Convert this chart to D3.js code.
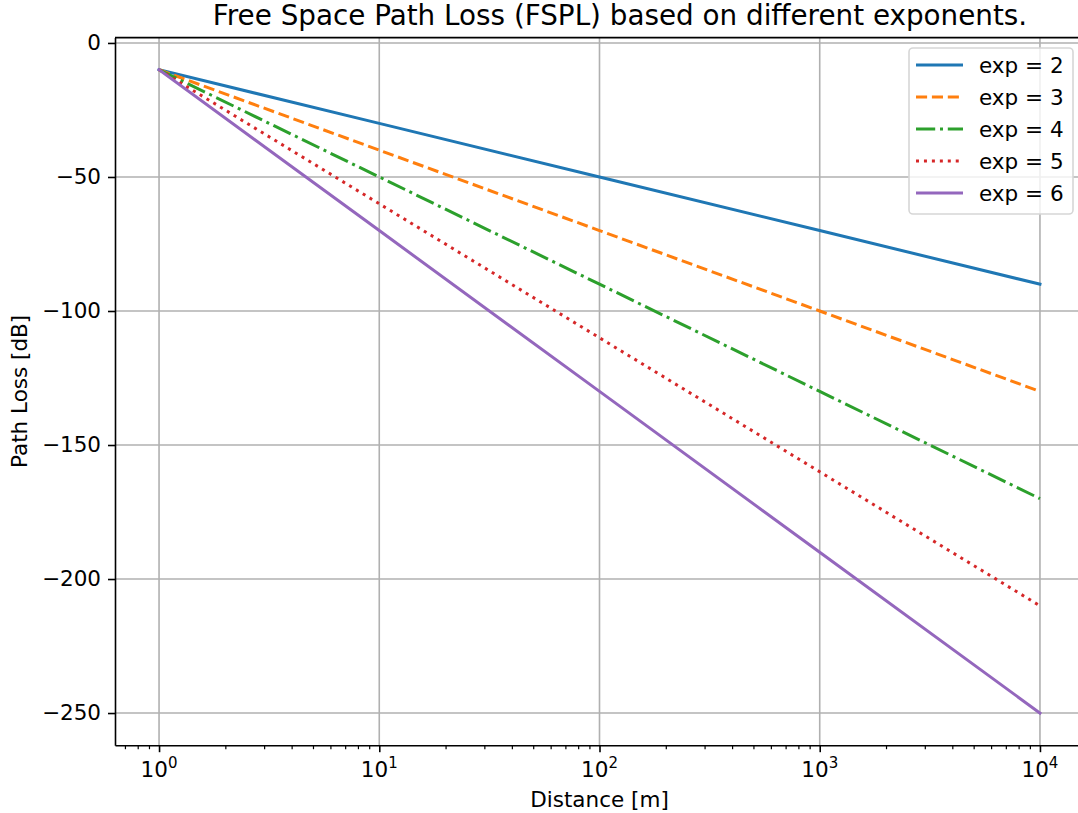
<!DOCTYPE html>
<html>
<head>
<meta charset="utf-8">
<script src="https://cdn.jsdelivr.net/npm/d3@7"></script>
<style>
  body { margin: 0; background: #fff; }
  svg text { font-family: "DejaVu Sans", sans-serif; fill: #000; }
</style>
</head>
<body>
<svg id="chart" width="1078" height="813"></svg>
<script>
// path loss, one array per exponent
var distances = [1, 10, 100, 1000, 10000];
var exponents = [2, 3, 4, 5, 6];
var lossExp2 = [-10, -30, -50, -70, -90];
var lossExp3 = [-10, -40, -70, -100, -130];
var lossExp4 = [-10, -50, -90, -130, -170];
var lossExp5 = [-10, -60, -110, -160, -210];
var lossExp6 = [-10, -70, -130, -190, -250];
var xMajorTicks = [1, 10, 100, 1000, 10000];
var xTickExps = ["0", "1", "2", "3", "4"];
var yTicks = [0, -50, -100, -150, -200, -250];

var seriesLoss = [lossExp2, lossExp3, lossExp4, lossExp5, lossExp6];
var colors = ["#1f77b4", "#ff7f0e", "#2ca02c", "#d62728", "#9467bd"];
var dashes = [null, "11.1,4.8", "19.2,4.8,3,4.8", "3,4.95", null];

var svg = d3.select("#chart");
// plot box (right edge lies past the picture, as in the original crop)
var plotL = 115, plotT = 37.6, plotB = 745.2, plotR = 1084;
var labelSize = "21.5px";

var x = d3.scaleLog().domain([Math.pow(10, -0.2), Math.pow(10, 4.2)]).range([plotL, plotR]);
var y = d3.scaleLinear().domain([-262, 2]).range([plotB, plotT]);

// grid
var grid = svg.append("g");
grid.selectAll(".gx").data(xMajorTicks).enter().append("line")
  .attr("x1", function(d) { return x(d); }).attr("x2", function(d) { return x(d); })
  .attr("y1", plotT).attr("y2", plotB)
  .attr("stroke", "#b0b0b0").attr("stroke-width", 1.6);
grid.selectAll(".gy").data(yTicks).enter().append("line")
  .attr("x1", plotL).attr("x2", plotR)
  .attr("y1", function(d) { return y(d); }).attr("y2", function(d) { return y(d); })
  .attr("stroke", "#b0b0b0").attr("stroke-width", 1.6);

// lines
var line = d3.line()
  .x(function(d, i) { return x(distances[i]); })
  .y(function(d) { return y(d); });

seriesLoss.forEach(function(vals, i) {
  svg.append("path")
    .attr("d", line(vals))
    .attr("fill", "none")
    .attr("stroke", colors[i])
    .attr("stroke-width", 3)
    .attr("stroke-dasharray", dashes[i])
    .attr("stroke-linecap", dashes[i] ? "butt" : "square");
});

// axes
var minorTicks = [];
for (var e = -1; e <= 4; e++) {
  for (var m = 2; m <= 9; m++) {
    var v = m * Math.pow(10, e);
    if (v >= x.domain()[0] && v <= x.domain()[1]) minorTicks.push(v);
  }
}

var xAxis = svg.append("g").attr("transform", "translate(0," + plotB + ")");
xAxis.call(d3.axisBottom(x).tickValues(xMajorTicks).tickSize(7).tickSizeOuter(0).tickFormat(""));
xAxis.selectAll(".tick line").attr("stroke-width", 1.6);
xAxis.select(".domain").attr("stroke-width", 1.6);

var xMinor = svg.append("g").attr("transform", "translate(0," + plotB + ")");
xMinor.call(d3.axisBottom(x).tickValues(minorTicks).tickSize(4).tickSizeOuter(0).tickFormat(""));
xMinor.select(".domain").remove();
xMinor.selectAll(".tick line").attr("stroke-width", 1.2);

xMajorTicks.forEach(function(d, i) {
  var t = svg.append("text")
    .attr("x", x(d)).attr("y", 777)
    .attr("text-anchor", "middle")
    .style("font-size", labelSize);
  t.append("tspan").text("10");
  t.append("tspan").attr("dy", -9).style("font-size", "15px").text(xTickExps[i]);
});

var yAxis = svg.append("g").attr("transform", "translate(" + plotL + ",0)");
yAxis.call(d3.axisLeft(y).tickValues(yTicks).tickSize(7).tickSizeOuter(0).tickPadding(7));
yAxis.selectAll(".tick line").attr("stroke-width", 1.6);
yAxis.select(".domain").attr("stroke-width", 1.6);
yAxis.selectAll(".tick text").style("font-size", labelSize)
  .style("font-family", "DejaVu Sans");

// top spine
svg.append("line").attr("x1", plotL).attr("x2", plotR).attr("y1", plotT).attr("y2", plotT)
  .attr("stroke", "#000").attr("stroke-width", 1.6);

// titles
svg.append("text").attr("x", 620).attr("y", 25)
  .attr("text-anchor", "middle").style("font-size", "27.8px")
  .text("Free Space Path Loss (FSPL) based on different exponents.");
svg.append("text").attr("x", (plotL + plotR) / 2).attr("y", 807)
  .attr("text-anchor", "middle").style("font-size", labelSize)
  .text("Distance [m]");
svg.append("text")
  .attr("transform", "translate(27," + ((plotT + plotB) / 2) + ") rotate(-90)")
  .attr("text-anchor", "middle").style("font-size", labelSize)
  .text("Path Loss [dB]");

// legend
var legend = svg.append("g");
legend.append("rect")
  .attr("x", 909).attr("y", 48).attr("width", 164).attr("height", 166)
  .attr("rx", 4).attr("fill", "#fff").attr("fill-opacity", 0.8)
  .attr("stroke", "#d6d6d6").attr("stroke-width", 1.6);

exponents.forEach(function(ex, i) {
  var ly = 65 + i * 32;
  legend.append("line")
    .attr("x1", 916).attr("x2", 963).attr("y1", ly).attr("y2", ly)
    .attr("stroke", colors[i]).attr("stroke-width", 3)
    .attr("stroke-dasharray", dashes[i]);
  legend.append("text")
    .attr("x", 979).attr("y", ly + 7.5)
    .style("font-size", labelSize)
    .text("exp = " + ex);
});
</script>
</body>
</html>
